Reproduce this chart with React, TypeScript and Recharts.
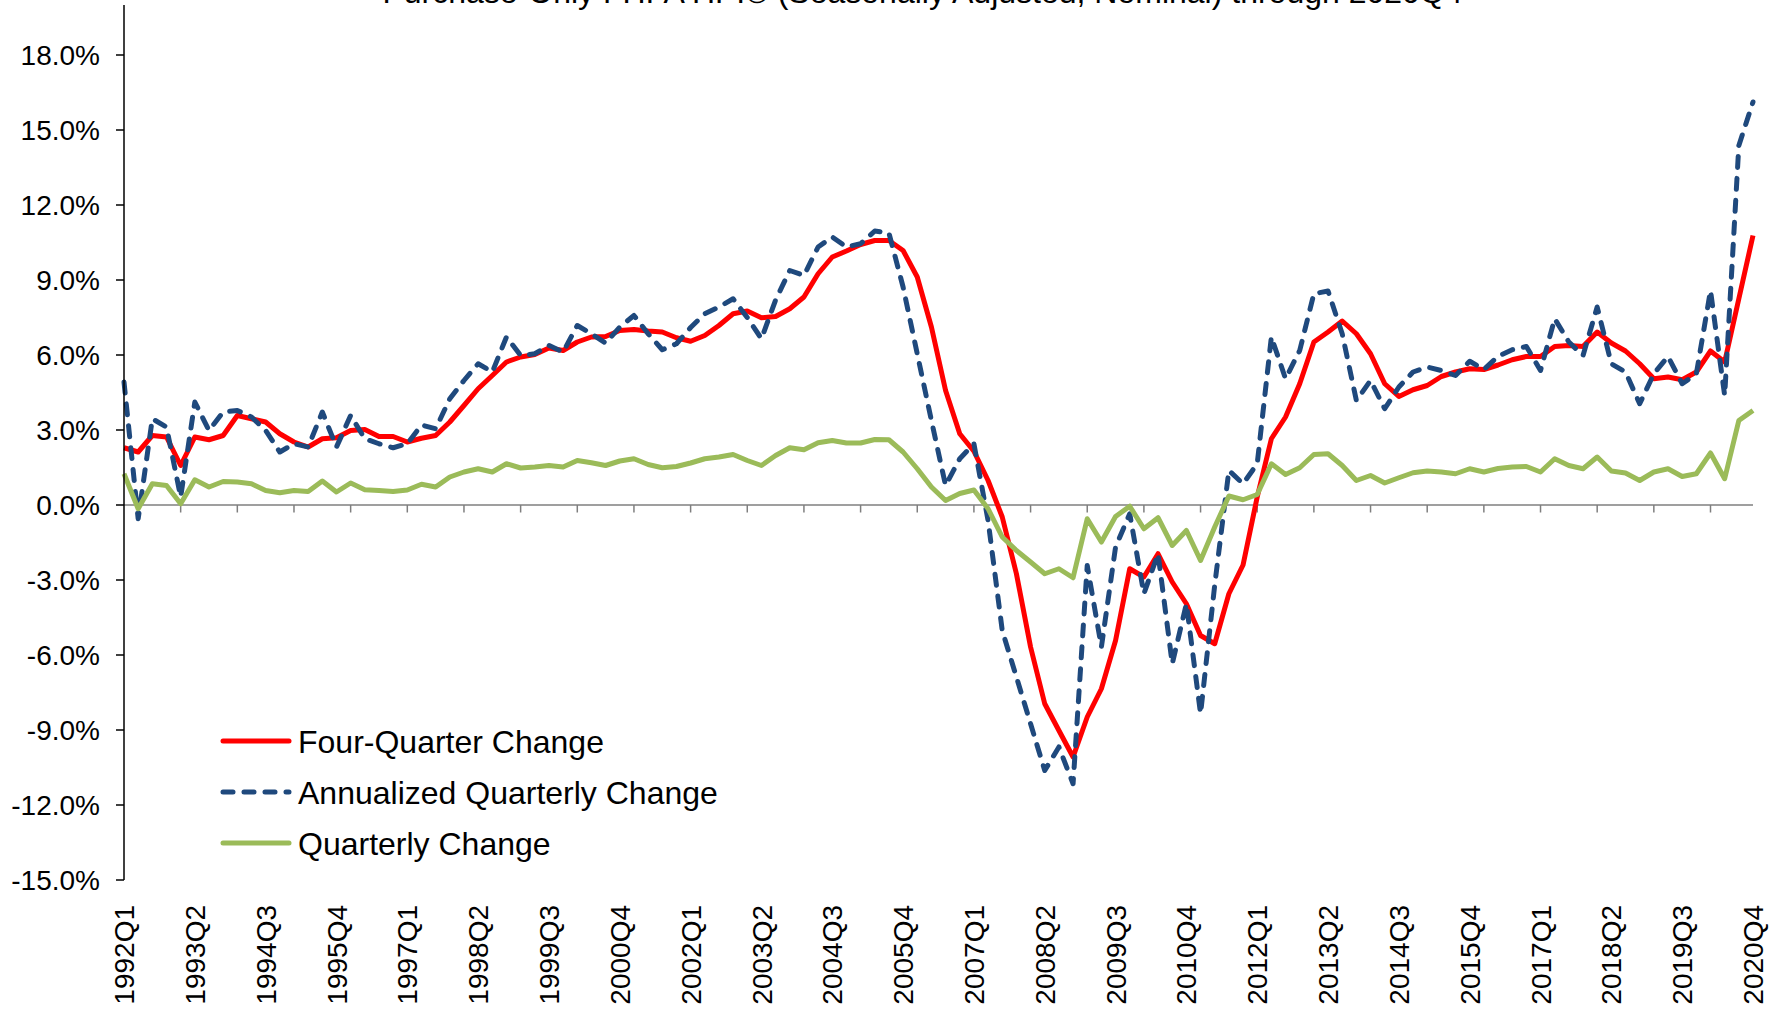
import React from "react";
import { LineChart, Line, XAxis, YAxis, ReferenceLine, Legend } from "recharts";

// quarter labels 1992Q1 .. 2020Q4
const quarters: string[] = [];
for (let y = 1992; y <= 2020; y++) {
  for (let q = 1; q <= 4; q++) quarters.push(`${y}Q${q}`);
}

const fourQuarter = [
  2.29, 2.12, 2.78, 2.72, 1.58, 2.72, 2.61, 2.78, 3.58, 3.45,
  3.32, 2.85, 2.52, 2.32, 2.65, 2.69, 2.98, 3.02, 2.74, 2.74,
  2.52, 2.67, 2.78, 3.32, 3.98, 4.65, 5.18, 5.72, 5.92, 6.02,
  6.28, 6.18, 6.52, 6.72, 6.74, 6.98, 7.02, 6.96, 6.92, 6.69,
  6.55, 6.78, 7.18, 7.65, 7.76, 7.49, 7.54, 7.85, 8.32, 9.25,
  9.92, 10.16, 10.42, 10.58, 10.58, 10.18, 9.12, 7.12, 4.58, 2.85,
  2.15, 0.98, -0.48, -2.75, -5.68, -7.95, -9.02, -10.08, -8.48, -7.35,
  -5.42, -2.55, -2.88, -1.95, -3.08, -3.95, -5.22, -5.55, -3.55, -2.4,
  0.32, 2.65, 3.52, 4.85, 6.52, 6.92, 7.36, 6.85, 6.05, 4.85,
  4.34, 4.61, 4.78, 5.14, 5.32, 5.45, 5.42, 5.6, 5.81, 5.94,
  5.94, 6.34, 6.38, 6.34, 6.92, 6.48, 6.16, 5.65, 5.05, 5.12,
  5.01, 5.32, 6.16, 5.72, 8.25, 10.78,
];

const annualized = [
  4.92, -0.55, 3.45, 3.12, 0.32, 4.12, 2.98, 3.72, 3.78, 3.52,
  2.98, 2.12, 2.45, 2.32, 3.72, 2.32, 3.58, 2.65, 2.45, 2.29,
  2.45, 3.2, 3.05, 4.25, 4.98, 5.65, 5.32, 6.72, 5.98, 6.05,
  6.38, 6.12, 7.18, 6.85, 6.48, 7.12, 7.58, 6.85, 6.21, 6.45,
  7.1, 7.65, 7.92, 8.25, 7.5, 6.65, 8.2, 9.38, 9.18, 10.32,
  10.72, 10.32, 10.45, 10.96, 10.88, 8.72, 6.05, 3.38, 0.78, 1.85,
  2.45, -0.62, -5.02, -6.88, -8.75, -10.62, -9.68, -11.15, -2.42, -5.68,
  -1.68, -0.35, -3.55, -1.95, -6.35, -3.95, -8.35, -3.2, 1.38, 0.85,
  1.65, 6.72, 5.05, 6.18, 8.45, 8.56, 6.85, 4.18, 4.98, 3.85,
  4.72, 5.32, 5.52, 5.38, 5.18, 5.75, 5.42, 5.95, 6.21, 6.34,
  5.38, 7.45, 6.52, 5.98, 7.92, 5.65, 5.32, 4.05, 5.25, 5.94,
  4.85, 5.25, 8.58, 4.38, 14.38, 16.12,
];

const quarterly = [
  1.25, -0.15, 0.85, 0.78, 0.05, 1.01, 0.72, 0.94, 0.92, 0.85,
  0.58, 0.49, 0.58, 0.54, 0.96, 0.52, 0.88, 0.61, 0.58, 0.54,
  0.6, 0.83, 0.72, 1.12, 1.32, 1.45, 1.32, 1.65, 1.48, 1.52,
  1.58, 1.52, 1.78, 1.69, 1.58, 1.76, 1.85, 1.62, 1.49, 1.54,
  1.68, 1.85, 1.92, 2.02, 1.78, 1.58, 1.98, 2.29, 2.21, 2.49,
  2.58, 2.48, 2.48, 2.62, 2.61, 2.12, 1.45, 0.72, 0.18, 0.46,
  0.6, -0.15, -1.28, -1.82, -2.28, -2.75, -2.55, -2.91, -0.55, -1.48,
  -0.46, -0.05, -0.95, -0.51, -1.62, -1.02, -2.22, -0.88, 0.36, 0.21,
  0.42, 1.65, 1.22, 1.49, 2.02, 2.05, 1.58, 0.98, 1.18, 0.88,
  1.09, 1.29, 1.36, 1.32, 1.25, 1.45, 1.32, 1.46, 1.52, 1.54,
  1.32, 1.85, 1.58, 1.45, 1.92, 1.36, 1.28, 0.98, 1.32, 1.45,
  1.14, 1.25, 2.08, 1.05, 3.38, 3.78,
];

const yTicks = [-15, -12, -9, -6, -3, 0, 3, 6, 9, 12, 15, 18];

const data = quarters.map((q, i) => ({
  q,
  four: fourQuarter[i],
  ann: annualized[i],
  qtr: quarterly[i],
}));

const FONT = '"Liberation Sans", Arial, sans-serif';
const RED = "#FF0000";
const BLUE = "#1F497D";
const GREEN = "#9BBB59";

const legendItems = [
  { name: "Four-Quarter Change", color: RED, dash: undefined },
  { name: "Annualized Quarterly Change", color: BLUE, dash: "10 11" },
  { name: "Quarterly Change", color: GREEN, dash: undefined },
];

function QuarterTick(props: any) {
  const { x, y, index, payload } = props;
  if (index % 5 !== 0) return null;
  return (
    <g transform={`translate(${x},${y}) rotate(-90)`}>
      <text x={0} y={0} dy="0.36em" textAnchor="end" fontSize={28} fontFamily={FONT} fill="#000">
        {payload.value}
      </text>
    </g>
  );
}

function renderLegend() {
  return (
    <svg width={580} height={160}>
      {legendItems.map((it, i) => {
        const cy = 26 + i * 51;
        return (
          <g key={it.name}>
            <line
              x1={5}
              x2={71}
              y1={cy}
              y2={cy}
              stroke={it.color}
              strokeWidth={5}
              strokeLinecap="round"
              strokeDasharray={it.dash}
            />
            <text x={80} y={cy} dy="0.36em" fontSize={32} fontFamily={FONT} fill="#000">
              {it.name}
            </text>
          </g>
        );
      })}
    </svg>
  );
}

export default function App() {
  const tickQuarters = quarters.filter((_, i) => i > 0 && i % 4 === 0);
  return (
    <div style={{ position: "relative", width: 1779, height: 1016, overflow: "hidden", background: "#fff" }}>
      <style>{`body{margin:0}`}</style>
      <div
        style={{
          position: "absolute",
          left: 0,
          width: 1779,
          top: -26,
          textAlign: "center",
          fontFamily: FONT,
          fontSize: 32,
          lineHeight: "36px",
          paddingLeft: 66,
          boxSizing: "border-box",
        }}
      >
        Purchase-Only FHFA HPI® (Seasonally Adjusted, Nominal) through 2020Q4
      </div>
      <LineChart width={1779} height={1016} data={data} margin={{ top: 5, right: 26, left: 0, bottom: 0 }}>
        <XAxis
          dataKey="q"
          height={136}
          interval={0}
          axisLine={false}
          tickLine={false}
          tickSize={0}
          tickMargin={25}
          tick={<QuarterTick />}
        />
        <YAxis
          width={124}
          domain={[-15, 20]}
          ticks={yTicks}
          allowDataOverflow
          tickFormatter={(v: number) => `${v.toFixed(1)}%`}
          tick={{ fontSize: 28, fontFamily: FONT, fill: "#000" }}
          tickSize={8}
          tickMargin={16}
          tickLine={{ stroke: "#000", strokeWidth: 1.5 }}
          axisLine={{ stroke: "#000", strokeWidth: 1.5 }}
        />
        <ReferenceLine y={0} stroke="#7f7f7f" strokeWidth={1.5} />
        {tickQuarters.map((q) => (
          <ReferenceLine
            key={q}
            segment={[
              { x: q, y: 0 },
              { x: q, y: -0.3 },
            ]}
            stroke="#7f7f7f"
            strokeWidth={1.5}
          />
        ))}
        <Line
          type="linear"
          dataKey="four"
          stroke={RED}
          strokeWidth={5}
          dot={false}
          strokeLinejoin="round"
          isAnimationActive={false}
        />
        <Line
          type="linear"
          dataKey="ann"
          stroke={BLUE}
          strokeWidth={5}
          strokeDasharray="11 11"
          strokeLinecap="round"
          dot={false}
          strokeLinejoin="round"
          isAnimationActive={false}
        />
        <Line
          type="linear"
          dataKey="qtr"
          stroke={GREEN}
          strokeWidth={5}
          dot={false}
          strokeLinejoin="round"
          isAnimationActive={false}
        />
        <Legend
          content={renderLegend}
          layout="horizontal"
          align="center"
          verticalAlign="middle"
          wrapperStyle={{ left: 218, top: 715, width: 580, height: 160 }}
        />
      </LineChart>
    </div>
  );
}
